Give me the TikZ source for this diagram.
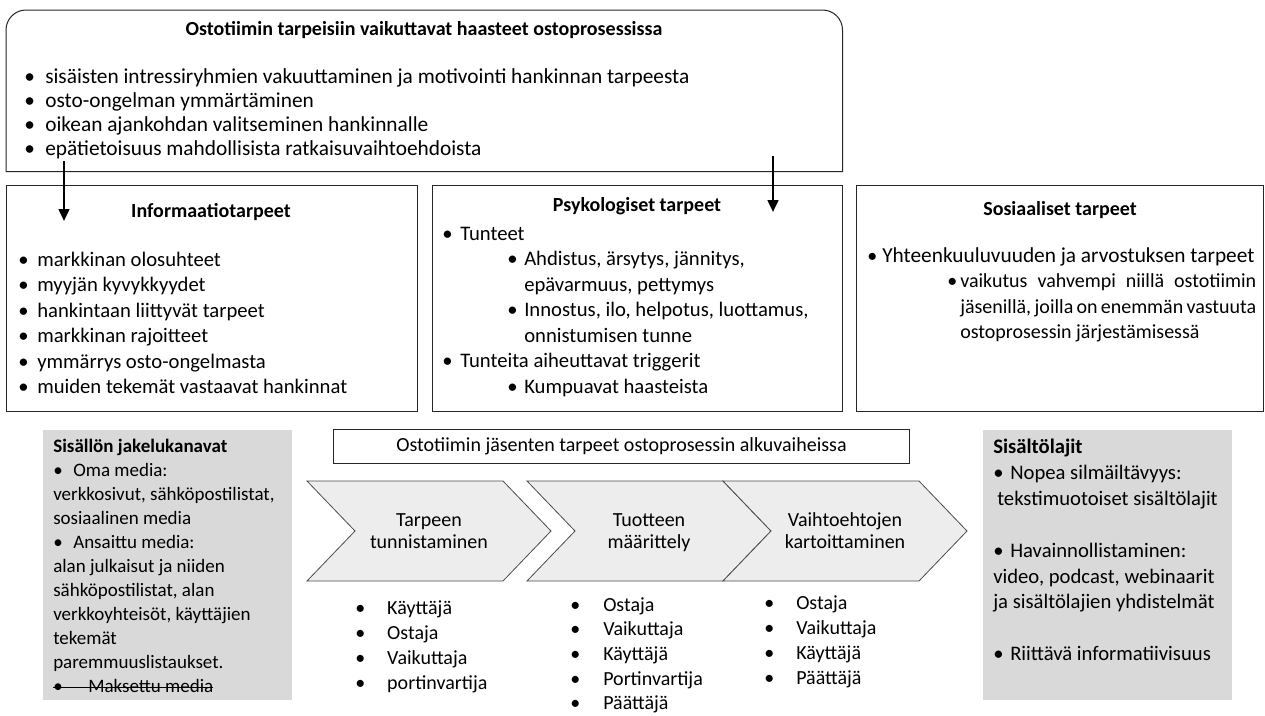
\documentclass[tikz,border=0pt]{standalone}
\usepackage{fontspec}
\setmainfont{Carlito}
\usepackage{tikz}
\usetikzlibrary{arrows.meta, positioning}

\newcommand{\bl}[1]{\makebox[#1][l]{\textbullet}}
\newcommand{\strikeit}[1]{\setbox0\hbox{#1}\rlap{\rule[0.27em]{\wd0}{0.6pt}}\box0}
\newcommand{\listfont}{\fontsize{15.5pt}{19.1pt}\selectfont}
\newcommand{\sosfont}{\fontsize{15pt}{19.1pt}\selectfont}
\newcommand{\topfont}{\fontsize{16pt}{18pt}\selectfont}
\newcommand{\grayfont}{\fontsize{14.25pt}{18pt}\selectfont}
\newcommand{\sidefont}{\fontsize{15.5pt}{19.4pt}\selectfont}
\newcommand{\rolefont}{\fontsize{15pt}{18.75pt}\selectfont}

\tikzstyle{every picture} = [x=0.75pt, y=-0.75pt]
\tikzstyle{boxline} = [draw=black!85, line width=0.75pt]
\tikzstyle{needbox} = [boxline, inner sep=0pt, anchor=north west]
\tikzstyle{shadebox} = [fill=black!15, inner sep=0pt, anchor=north west]
\tikzstyle{listtext} = [inner sep=0pt, anchor=north west, align=left]
\tikzstyle{boxtitle} = [inner sep=0pt, font=\bfseries\fontsize{15pt}{18pt}\selectfont]
\tikzstyle{phase} = [draw=black!70, fill=black!7, line width=0.6pt]
\tikzstyle{phasetext} = [inner sep=0pt, align=center, font=\fontsize{15pt}{16.5pt}\selectfont]
\tikzstyle{downarrow} = [-{Triangle[length=9pt, width=8pt]}, line width=1.9pt]

\begin{document}
\begin{tikzpicture}
\useasboundingbox (0,0) rectangle (1265,715);

% haasteet
\node (box haasteet) [anchor=north west, inner sep=0pt, minimum width=627pt, minimum height=120.75pt] at (6,10) {};
\draw[boxline] (box haasteet.south west) -- ([yshift=-15pt]box haasteet.north west) arc[start angle=180, end angle=90, radius=15pt] -- ([xshift=-15pt]box haasteet.north east) arc[start angle=90, end angle=0, radius=15pt] -- (box haasteet.south east) -- cycle;
\node (title haasteet) [boxtitle] at (424,30) {Ostotiimin tarpeisiin vaikuttavat haasteet ostoprosessissa};
\node (list haasteet) [listtext, font=\topfont] at (24,66.6) {\strut\bl{15.75pt}sisäisten intressiryhmien vakuuttaminen ja motivointi hankinnan tarpeesta\\
\bl{15.75pt}osto-ongelman ymmärtäminen\\
\bl{15.75pt}oikean ajankohdan valitseminen hankinnalle\\
\bl{15.75pt}epätietoisuus mahdollisista ratkaisuvaihtoehdoista};

% tarpeet
\node (box info) [needbox, minimum width=308.25pt, minimum height=169.5pt] at (6,185) {};
\node (title info) [boxtitle] at (211,212) {Informaatiotarpeet};
\node (list info) [listtext, font=\listfont] at (18,248.3) {\strut\bl{14.25pt}markkinan olosuhteet\\
\bl{14.25pt}myyjän kyvykkyydet\\
\bl{14.25pt}hankintaan liittyvät tarpeet\\
\bl{14.25pt}markkinan rajoitteet\\
\bl{14.25pt}ymmärrys osto-ongelmasta\\
\bl{14.25pt}muiden tekemät vastaavat hankinnat};

\node (box psyk) [needbox, minimum width=307.5pt, minimum height=169.5pt] at (432,185) {};
\node (title psyk) [boxtitle] at (637,206) {Psykologiset tarpeet};
\node (list psyk) [listtext, font=\listfont] at (442,222.3) {\strut\bl{13.5pt}Tunteet\\
\hspace*{48.75pt}\bl{12.75pt}Ahdistus, ärsytys, jännitys,\\
\hspace*{61.5pt}epävarmuus, pettymys\\
\hspace*{48.75pt}\bl{12.75pt}Innostus, ilo, helpotus, luottamus,\\
\hspace*{61.5pt}onnistumisen tunne\\
\bl{13.5pt}Tunteita aiheuttavat triggerit\\
\hspace*{48.75pt}\bl{12.75pt}Kumpuavat haasteista};

\node (box sos) [needbox, minimum width=305.25pt, minimum height=169.5pt] at (856,185) {};
\node (title sos) [boxtitle] at (1060,210) {Sosiaaliset tarpeet};
\node (list sos) [listtext, font=\sosfont] at (867,244.3) {\strut\bl{11.25pt}{\fontsize{16pt}{19.1pt}\selectfont Yhteenkuuluvuuden ja arvostuksen tarpeet}\\
\hspace*{60pt}\bl{9.75pt}\makebox[222pt][s]{vaikutus vahvempi niillä ostotiimin}\\
\hspace*{69.75pt}\makebox[222pt][s]{jäsenillä, joilla on enemmän vastuuta}\\
\hspace*{69.75pt}ostoprosessin järjestämisessä};

\coordinate (arrow 1 start) at (64,161);
\coordinate (arrow 1 end) at (64,221);
\coordinate (arrow 2 start) at (773,156);
\coordinate (arrow 2 end) at (773,212);
\draw[downarrow] (arrow 1 start) -- (arrow 1 end);
\draw[downarrow] (arrow 2 start) -- (arrow 2 end);

% sisallon jakelu
\node (box jakelu) [shadebox, minimum width=186.75pt, minimum height=202.5pt] at (43,430) {};
\node (list jakelu) [listtext, font=\grayfont] at (53,435.9) {\strut\textbf{Sisällön jakelukanavat}\\
\bl{15pt}Oma media:\\
verkkosivut, sähköpostilistat,\\
sosiaalinen media\\
\bl{15pt}Ansaittu media:\\
alan julkaisut ja niiden\\
sähköpostilistat, alan\\
verkkoyhteisöt, käyttäjien\\
tekemät\\
paremmuuslistaukset.\\
\strikeit{\bl{26.25pt}Maksettu media}};

% ostoprosessin vaiheet
\node (box otsikko) [needbox, minimum width=432pt, minimum height=25.5pt, font=\rolefont] at (333,429) {Ostotiimin jäsenten tarpeet ostoprosessin alkuvaiheissa};

\draw[phase] (307,481) -- (503,481) -- (551,531) -- (503,581) -- (307,581) -- (355,531) -- cycle;
\draw[phase] (527,481) -- (723,481) -- (771,531) -- (723,581) -- (527,581) -- (575,531) -- cycle;
\draw[phase] (723,481) -- (919,481) -- (967,531) -- (919,581) -- (723,581) -- (771,531) -- cycle;
\node (phase 1) [phasetext] at (429,533) {\strut Tarpeen\\\strut tunnistaminen};
\node (phase 2) [phasetext] at (649,533) {\strut Tuotteen\\\strut määrittely};
\node (phase 3) [phasetext] at (845,533) {\strut Vaihtoehtojen\\\strut kartoittaminen};

\node (roles 1) [listtext, font=\rolefont] at (355,596.5) {\strut\bl{24pt}Käyttäjä\\
\bl{24pt}Ostaja\\
\bl{24pt}Vaikuttaja\\
\bl{24pt}portinvartija};
\node (roles 2) [listtext, font=\fontsize{15pt}{18.4pt}\selectfont] at (570,594) {\strut\bl{24.75pt}Ostaja\\
\bl{24.75pt}Vaikuttaja\\
\bl{24.75pt}Käyttäjä\\
\bl{24.75pt}Portinvartija\\
\bl{24.75pt}Päättäjä};
\node (roles 3) [listtext, font=\rolefont] at (764,591.5) {\strut\bl{24pt}Ostaja\\
\bl{24pt}Vaikuttaja\\
\bl{24pt}Käyttäjä\\
\bl{24pt}Päättäjä};

% sisaltolajit
\node (box sisalto) [shadebox, minimum width=186.75pt, minimum height=202.5pt] at (983,430) {};
\node (list sisalto) [listtext, font=\sidefont] at (993,435.3) {\strut\textbf{Sisältölajit}\\
\bl{12.75pt}Nopea silmäiltävyys:\\
\hspace*{3pt}tekstimuotoiset sisältölajit\\
\strut\\
\bl{12.75pt}Havainnollistaminen:\\
video, podcast, webinaarit\\
ja sisältölajien yhdistelmät\\
\strut\\
\bl{12.75pt}Riittävä informatiivisuus};
\end{tikzpicture}
\end{document}
